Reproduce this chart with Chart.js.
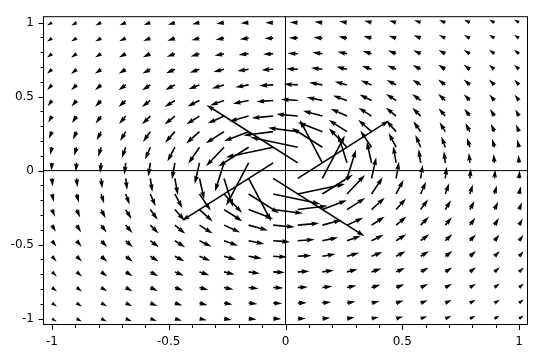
<!DOCTYPE html>
<html>
<head>
<meta charset="utf-8">
<script src="https://cdn.jsdelivr.net/npm/chart.js@4.4.1/dist/chart.umd.min.js"></script>
<style>
  html, body { margin: 0; padding: 0; background: #fff; }
  #wrap { width: 540px; height: 356px; }
</style>
</head>
<body>
<div id="wrap"><canvas id="campo"></canvas></div>
<script>
// posicoes da grade (20 x 20), linhas de cima para baixo
const xs = [-1, -0.8947, -0.7895, -0.6842, -0.5789, -0.4737, -0.3684, -0.2632, -0.1579, -0.0526,
            0.0526, 0.1579, 0.2632, 0.3684, 0.4737, 0.5789, 0.6842, 0.7895, 0.8947, 1];
const ys = [1, 0.8947, 0.7895, 0.6842, 0.5789, 0.4737, 0.3684, 0.2632, 0.1579, 0.0526,
            -0.0526, -0.1579, -0.2632, -0.3684, -0.4737, -0.5789, -0.6842, -0.7895, -0.8947, -1];

// componente horizontal de cada seta
const uRows = [
  [-0.5,-0.56,-0.62,-0.68,-0.75,-0.82,-0.88,-0.94,-0.98,-1,-1,-0.98,-0.94,-0.88,-0.82,-0.75,-0.68,-0.62,-0.56,-0.5],
  [-0.5,-0.56,-0.63,-0.71,-0.79,-0.87,-0.96,-1.03,-1.08,-1.11,-1.11,-1.08,-1.03,-0.96,-0.87,-0.79,-0.71,-0.63,-0.56,-0.5],
  [-0.49,-0.55,-0.63,-0.72,-0.82,-0.93,-1.04,-1.14,-1.22,-1.26,-1.26,-1.22,-1.14,-1.04,-0.93,-0.82,-0.72,-0.63,-0.55,-0.49],
  [-0.47,-0.54,-0.63,-0.73,-0.85,-0.99,-1.13,-1.27,-1.39,-1.45,-1.45,-1.39,-1.27,-1.13,-0.99,-0.85,-0.73,-0.63,-0.54,-0.47],
  [-0.43,-0.51,-0.6,-0.72,-0.86,-1.03,-1.23,-1.43,-1.61,-1.71,-1.71,-1.61,-1.43,-1.23,-1.03,-0.86,-0.72,-0.6,-0.51,-0.43],
  [-0.39,-0.46,-0.56,-0.68,-0.85,-1.06,-1.32,-1.61,-1.9,-2.09,-2.09,-1.9,-1.61,-1.32,-1.06,-0.85,-0.68,-0.56,-0.46,-0.39],
  [-0.32,-0.39,-0.49,-0.61,-0.78,-1.02,-1.36,-1.8,-2.29,-2.66,-2.66,-2.29,-1.8,-1.36,-1.02,-0.78,-0.61,-0.49,-0.39,-0.32],
  [-0.25,-0.3,-0.38,-0.49,-0.65,-0.9,-1.28,-1.9,-2.79,-3.65,-3.65,-2.79,-1.9,-1.28,-0.9,-0.65,-0.49,-0.38,-0.3,-0.25],
  [-0.15,-0.19,-0.24,-0.32,-0.44,-0.63,-0.98,-1.68,-3.17,-5.7,-5.7,-3.17,-1.68,-0.98,-0.63,-0.44,-0.32,-0.24,-0.19,-0.15],
  [-0.05,-0.07,-0.08,-0.11,-0.16,-0.23,-0.38,-0.73,-1.9,-9.5,-9.5,-1.9,-0.73,-0.38,-0.23,-0.16,-0.11,-0.08,-0.07,-0.05],
  [0.05,0.07,0.08,0.11,0.16,0.23,0.38,0.73,1.9,9.5,9.5,1.9,0.73,0.38,0.23,0.16,0.11,0.08,0.07,0.05],
  [0.15,0.19,0.24,0.32,0.44,0.63,0.98,1.68,3.17,5.7,5.7,3.17,1.68,0.98,0.63,0.44,0.32,0.24,0.19,0.15],
  [0.25,0.3,0.38,0.49,0.65,0.9,1.28,1.9,2.79,3.65,3.65,2.79,1.9,1.28,0.9,0.65,0.49,0.38,0.3,0.25],
  [0.32,0.39,0.49,0.61,0.78,1.02,1.36,1.8,2.29,2.66,2.66,2.29,1.8,1.36,1.02,0.78,0.61,0.49,0.39,0.32],
  [0.39,0.46,0.56,0.68,0.85,1.06,1.32,1.61,1.9,2.09,2.09,1.9,1.61,1.32,1.06,0.85,0.68,0.56,0.46,0.39],
  [0.43,0.51,0.6,0.72,0.86,1.03,1.23,1.43,1.61,1.71,1.71,1.61,1.43,1.23,1.03,0.86,0.72,0.6,0.51,0.43],
  [0.47,0.54,0.63,0.73,0.85,0.99,1.13,1.27,1.39,1.45,1.45,1.39,1.27,1.13,0.99,0.85,0.73,0.63,0.54,0.47],
  [0.49,0.55,0.63,0.72,0.82,0.93,1.04,1.14,1.22,1.26,1.26,1.22,1.14,1.04,0.93,0.82,0.72,0.63,0.55,0.49],
  [0.5,0.56,0.63,0.71,0.79,0.87,0.96,1.03,1.08,1.11,1.11,1.08,1.03,0.96,0.87,0.79,0.71,0.63,0.56,0.5],
  [0.5,0.56,0.62,0.68,0.75,0.82,0.88,0.94,0.98,1,1,0.98,0.94,0.88,0.82,0.75,0.68,0.62,0.56,0.5]
];

// componente vertical de cada seta
const vRows = [
  [-0.5,-0.5,-0.49,-0.47,-0.43,-0.39,-0.32,-0.25,-0.15,-0.05,0.05,0.15,0.25,0.32,0.39,0.43,0.47,0.49,0.5,0.5],
  [-0.56,-0.56,-0.55,-0.54,-0.51,-0.46,-0.39,-0.3,-0.19,-0.07,0.07,0.19,0.3,0.39,0.46,0.51,0.54,0.55,0.56,0.56],
  [-0.62,-0.63,-0.63,-0.63,-0.6,-0.56,-0.49,-0.38,-0.24,-0.08,0.08,0.24,0.38,0.49,0.56,0.6,0.63,0.63,0.63,0.62],
  [-0.68,-0.71,-0.72,-0.73,-0.72,-0.68,-0.61,-0.49,-0.32,-0.11,0.11,0.32,0.49,0.61,0.68,0.72,0.73,0.72,0.71,0.68],
  [-0.75,-0.79,-0.82,-0.85,-0.86,-0.85,-0.78,-0.65,-0.44,-0.16,0.16,0.44,0.65,0.78,0.85,0.86,0.85,0.82,0.79,0.75],
  [-0.82,-0.87,-0.93,-0.99,-1.03,-1.06,-1.02,-0.9,-0.63,-0.23,0.23,0.63,0.9,1.02,1.06,1.03,0.99,0.93,0.87,0.82],
  [-0.88,-0.96,-1.04,-1.13,-1.23,-1.32,-1.36,-1.28,-0.98,-0.38,0.38,0.98,1.28,1.36,1.32,1.23,1.13,1.04,0.96,0.88],
  [-0.94,-1.03,-1.14,-1.27,-1.43,-1.61,-1.8,-1.9,-1.68,-0.73,0.73,1.68,1.9,1.8,1.61,1.43,1.27,1.14,1.03,0.94],
  [-0.98,-1.08,-1.22,-1.39,-1.61,-1.9,-2.29,-2.79,-3.17,-1.9,1.9,3.17,2.79,2.29,1.9,1.61,1.39,1.22,1.08,0.98],
  [-1,-1.11,-1.26,-1.45,-1.71,-2.09,-2.66,-3.65,-5.7,-9.5,9.5,5.7,3.65,2.66,2.09,1.71,1.45,1.26,1.11,1],
  [-1,-1.11,-1.26,-1.45,-1.71,-2.09,-2.66,-3.65,-5.7,-9.5,9.5,5.7,3.65,2.66,2.09,1.71,1.45,1.26,1.11,1],
  [-0.98,-1.08,-1.22,-1.39,-1.61,-1.9,-2.29,-2.79,-3.17,-1.9,1.9,3.17,2.79,2.29,1.9,1.61,1.39,1.22,1.08,0.98],
  [-0.94,-1.03,-1.14,-1.27,-1.43,-1.61,-1.8,-1.9,-1.68,-0.73,0.73,1.68,1.9,1.8,1.61,1.43,1.27,1.14,1.03,0.94],
  [-0.88,-0.96,-1.04,-1.13,-1.23,-1.32,-1.36,-1.28,-0.98,-0.38,0.38,0.98,1.28,1.36,1.32,1.23,1.13,1.04,0.96,0.88],
  [-0.82,-0.87,-0.93,-0.99,-1.03,-1.06,-1.02,-0.9,-0.63,-0.23,0.23,0.63,0.9,1.02,1.06,1.03,0.99,0.93,0.87,0.82],
  [-0.75,-0.79,-0.82,-0.85,-0.86,-0.85,-0.78,-0.65,-0.44,-0.16,0.16,0.44,0.65,0.78,0.85,0.86,0.85,0.82,0.79,0.75],
  [-0.68,-0.71,-0.72,-0.73,-0.72,-0.68,-0.61,-0.49,-0.32,-0.11,0.11,0.32,0.49,0.61,0.68,0.72,0.73,0.72,0.71,0.68],
  [-0.62,-0.63,-0.63,-0.63,-0.6,-0.56,-0.49,-0.38,-0.24,-0.08,0.08,0.24,0.38,0.49,0.56,0.6,0.63,0.63,0.63,0.62],
  [-0.56,-0.56,-0.55,-0.54,-0.51,-0.46,-0.39,-0.3,-0.19,-0.07,0.07,0.19,0.3,0.39,0.46,0.51,0.54,0.55,0.56,0.56],
  [-0.5,-0.5,-0.49,-0.47,-0.43,-0.39,-0.32,-0.25,-0.15,-0.05,0.05,0.15,0.25,0.32,0.39,0.43,0.47,0.49,0.5,0.5]
];

// rotulos e marcas dos eixos
const tickLabels = [-1, -0.5, 0, 0.5, 1];
const minorTicks = [-1, -0.9, -0.8, -0.7, -0.6, -0.5, -0.4, -0.3, -0.2, -0.1, 0,
                    0.1, 0.2, 0.3, 0.4, 0.5, 0.6, 0.7, 0.8, 0.9, 1];

const pontos = [];
ys.forEach((y, i) => xs.forEach((x, j) => {
  pontos.push({ x, y, u: uRows[i][j], v: vRows[i][j] });
}));

// ── setas no estilo quiver (cauda no ponto da grade) ──
const quiverPlugin = {
  id: 'quiver',
  afterDatasetsDraw(chart) {
    const { ctx, chartArea: a, scales: { x: sx, y: sy } } = chart;
    const kx = sx.getPixelForValue(1) - sx.getPixelForValue(0);
    const ky = sy.getPixelForValue(1) - sy.getPixelForValue(0);
    const span = a.right - a.left;
    const w = 0.0033 * span;  // largura da haste
    const k = 0.0166 * span;  // pixels por unidade de modulo
    ctx.save();
    ctx.fillStyle = '#000';
    chart.data.datasets[0].data.forEach(p => {
      const px = sx.getPixelForValue(p.x);
      const py = sy.getPixelForValue(p.y);
      const dx = p.u * kx, dy = p.v * ky;
      const d = Math.hypot(dx, dy);
      if (!d) return;
      const c = dx / d, s = dy / d;
      const L = k * Math.hypot(p.u, p.v) / w;
      let X, Y;
      if (L < 5) {
        const f = L / 5;
        X = [0, 0.5, 0, 5, 0, 0.5, 0].map(t => t * f);
        Y = [0.5, 0.5, 1.5, 0, -1.5, -0.5, -0.5].map(t => t * f);
      } else {
        X = [0, L - 4.5, L - 5, L, L - 5, L - 4.5, 0];
        Y = [0.5, 0.5, 1.5, 0, -1.5, -0.5, -0.5];
      }
      ctx.beginPath();
      X.forEach((xx, i) => {
        const qx = px + (xx * c - Y[i] * s) * w;
        const qy = py + (xx * s + Y[i] * c) * w;
        if (i === 0) ctx.moveTo(qx, qy); else ctx.lineTo(qx, qy);
      });
      ctx.closePath();
      ctx.fill();
    });
    ctx.restore();
  }
};

// ── moldura, eixos pela origem e marcas ──
const molduraPlugin = {
  id: 'moldura',
  beforeDatasetsDraw(chart) {
    const { ctx, chartArea: a, scales: { x: sx, y: sy } } = chart;
    ctx.save();
    ctx.strokeStyle = '#000';
    ctx.lineWidth = 1;
    const y0 = sy.getPixelForValue(0), x0 = sx.getPixelForValue(0);
    ctx.beginPath();
    ctx.moveTo(a.left, y0); ctx.lineTo(a.right, y0);
    ctx.moveTo(x0, a.top); ctx.lineTo(x0, a.bottom);
    ctx.stroke();
    ctx.restore();
  },
  afterDraw(chart) {
    const { ctx, chartArea: a, scales: { x: sx, y: sy } } = chart;
    ctx.save();
    ctx.strokeStyle = '#000';
    ctx.lineWidth = 1;
    ctx.strokeRect(a.left + 0.5, a.top + 0.5, a.width - 1, a.height - 1);
    ctx.beginPath();
    minorTicks.forEach(t => {
      const len = tickLabels.includes(t) ? 4.5 : 2.5;
      const yy = Math.round(sy.getPixelForValue(t)) + 0.5;
      ctx.moveTo(a.left, yy); ctx.lineTo(a.left - len, yy);
      const xx = Math.round(sx.getPixelForValue(t)) + 0.5;
      ctx.moveTo(xx, a.bottom); ctx.lineTo(xx, a.bottom + len + 0.5);
    });
    ctx.stroke();
    ctx.restore();
  }
};

const fonte = { family: "'DejaVu Sans', sans-serif", size: 12 };

new Chart(document.getElementById('campo'), {
  type: 'scatter',
  data: { datasets: [{ data: pontos, pointRadius: 0, pointHoverRadius: 0 }] },
  options: {
    responsive: true,
    maintainAspectRatio: false,
    animation: false,
    events: [],
    layout: { padding: { top: 12, right: 12, left: 0, bottom: 0 } },
    plugins: { legend: { display: false }, tooltip: { enabled: false } },
    scales: {
      x: {
        type: 'linear', min: -1.0385, max: 1.0385,
        grid: { display: false, drawTicks: false },
        border: { display: false },
        afterBuildTicks: s => { s.ticks = tickLabels.map(v => ({ value: v })); },
        afterFit: s => { s.height = 31; },
        ticks: { padding: 10, color: '#000', font: fonte, maxRotation: 0, autoSkip: false, callback: v => String(v) }
      },
      y: {
        type: 'linear', min: -1.043, max: 1.043,
        grid: { display: false, drawTicks: false },
        border: { display: false },
        afterBuildTicks: s => { s.ticks = tickLabels.map(v => ({ value: v })); },
        afterFit: s => { s.width = 43; },
        ticks: { padding: 9, color: '#000', font: fonte, autoSkip: false, callback: v => String(v) }
      }
    }
  },
  plugins: [quiverPlugin, molduraPlugin]
});
</script>
</body>
</html>
